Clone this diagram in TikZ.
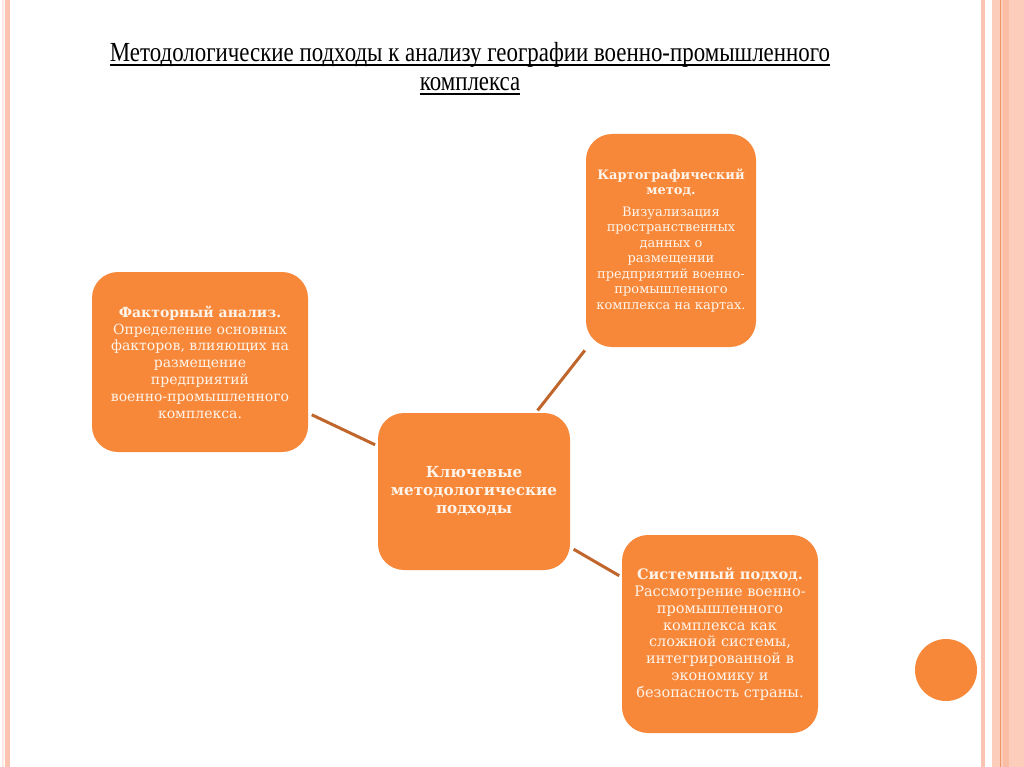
\documentclass[tikz,border=0pt]{standalone}
\usepackage{fontspec}
\setmainfont{Liberation Serif}
\newfontfamily\boxfont{DejaVu Serif}
\definecolor{boxorange}{RGB}{247,136,58}
\definecolor{linkbrown}{RGB}{192,101,43}
\definecolor{stripeA}{RGB}{251,196,176}
\definecolor{stripeB}{RGB}{253,205,187}
\definecolor{stripeC}{RGB}{238,150,100}
\definecolor{stripeD}{RGB}{250,190,165}
\definecolor{stripeE}{RGB}{254,234,226}
\definecolor{boxtext}{RGB}{255,244,234}
\tikzset{
  approach/.style={rectangle, rounded corners=26pt, fill=boxorange, draw=none,
    text=boxtext, align=center, inner sep=0pt, font=\boxfont\fontsize{14}{16.8}\selectfont},
  link/.style={draw=linkbrown, line width=3pt, shorten <=4pt, shorten >=3pt},
  titletext/.style={font=\fontsize{23}{26}\selectfont, anchor=base, inner sep=0pt},
}
\begin{document}
\begin{tikzpicture}[x=1pt,y=-1pt]
\useasboundingbox (0,0) rectangle (1024,767);
\fill[white] (0,0) rectangle (1024,767);
% side stripes
\fill[stripeE] (2,0) rectangle (4,767);
\fill[stripeA] (4.5,0) rectangle (9.5,767);
\fill[stripeA] (980.5,0) rectangle (985,767);
\fill[stripeB] (991.5,0) rectangle (1024,767);
\fill[stripeD] (1003,0) rectangle (1009,767);
\fill[stripeC] (999.5,0) rectangle (1000.8,767);
% title
\node[titletext] (title1) at (470,62)
  {\scalebox{0.995}[1.2]{Методологические подходы к анализу географии военно-промышленного}};
\node[titletext] (title2) at (470,91)
  {\scalebox{0.995}[1.2]{комплекса}};
\draw[line width=1.1pt] ([yshift=-3pt]title1.base west) -- ([yshift=-3pt]title1.base east);
\draw[line width=1.1pt] ([yshift=-3pt]title2.base west) -- ([yshift=-3pt]title2.base east);
% boxes
\node[approach, minimum width=216pt, minimum height=180pt] (factor) at (200,362)
  {\textbf{Факторный анализ.}\\Определение основных\\факторов, влияющих на\\размещение\\предприятий\\военно-промышленного\\комплекса.};
\node[approach, minimum width=170pt, minimum height=213pt,
  font=\boxfont\fontsize{13}{15.5}\selectfont] (carto) at (671,240.5)
  {\textbf{Картографический}\\\textbf{метод.}\\[6pt]Визуализация\\пространственных\\данных о\\размещении\\предприятий военно-\\промышленного\\комплекса на картах.};
\node[approach, minimum width=192pt, minimum height=157pt,
  font=\boxfont\bfseries\fontsize{15.2}{18}\selectfont] (core) at (474,491.5)
  {Ключевые\\методологические\\подходы};
\node[approach, minimum width=196pt, minimum height=198pt,
  font=\boxfont\fontsize{14.5}{16.8}\selectfont] (system) at (720,634)
  {\textbf{Системный подход.}\\Рассмотрение военно-\\промышленного\\комплекса как\\сложной системы,\\интегрированной в\\экономику и\\безопасность страны.};
% connectors
\draw[link] (factor) -- (core);
\draw[link] (carto) -- (core);
\draw[link] (core) -- (system);
% decorative circle
\node[circle, fill=boxorange, minimum size=62pt, inner sep=0pt] (dot) at (946,670) {};
\end{tikzpicture}
\end{document}
